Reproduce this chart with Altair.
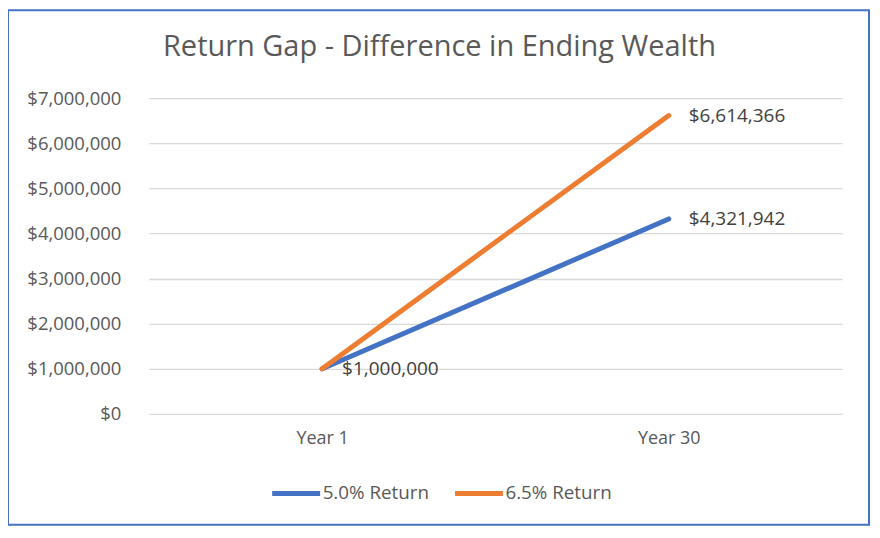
import altair as alt
import pandas as pd

title_text = "Return Gap - Difference in Ending Wealth"
years = ["Year 1", "Year 30"]
series = ["5.0% Return", "6.5% Return"]
r50 = [1000000, 4321942]
r65 = [1000000, 6614366]
colors = ["#4472C4", "#ED7D31"]
y_ticks = [0, 1000000, 2000000, 3000000, 4000000, 5000000, 6000000, 7000000]

rows = []
for i, y in enumerate(years):
    rows.append({"year": y, "series": series[0], "value": r50[i], "show": True})
    rows.append({"year": y, "series": series[1], "value": r65[i], "show": i > 0})
df = pd.DataFrame(rows)

FONT = "Open Sans"

x_enc = alt.X("year:N", sort=years, title=None,
              scale=alt.Scale(type="point", padding=0.5),
              axis=alt.Axis(labelFontSize=18, labelColor="#595959", labelFont=FONT,
                            ticks=False, domain=False, grid=False, labelPadding=16,
                            labelAngle=0))
y_enc = alt.Y("value:Q", title=None,
              scale=alt.Scale(domain=[0, 7000000], nice=False),
              axis=alt.Axis(values=y_ticks, format="$,.0f", labelFontSize=18.5,
                            labelColor="#595959", labelFont=FONT, ticks=False,
                            domain=False, labelPadding=28, gridColor="#D9D9D9",
                            gridWidth=1.3))

lines = alt.Chart(df).mark_line(strokeWidth=5, strokeCap="round", strokeJoin="round").encode(
    x=x_enc, y=y_enc,
    color=alt.Color("series:N", scale=alt.Scale(domain=series, range=colors),
                    legend=alt.Legend(title=None, orient="none", direction="horizontal",
                                      legendX=121, legendY=369, symbolType="stroke",
                                      symbolSize=2304, symbolStrokeWidth=5,
                                      labelFontSize=18.8, labelFont=FONT,
                                      labelColor="#595959", labelOffset=0,
                                      columnPadding=15, padding=0)),
)

labels = alt.Chart(df).transform_filter("datum.show").transform_calculate(
    label="format(datum.value, '$,.0f')"
).mark_text(align="left", baseline="middle", dx=20, fontSize=19, font=FONT,
            color="#404040").encode(
    x=alt.X("year:N", sort=years, scale=alt.Scale(type="point", padding=0.5)),
    y=alt.Y("value:Q"),
    text="label:N",
)

title = alt.Chart(pd.DataFrame({"t": [title_text]})).mark_text(
    align="center", baseline="alphabetic", fontSize=29, font=FONT, color="#595959"
).encode(x=alt.value(291), y=alt.value(-42), text="t:N")

border = alt.Chart(pd.DataFrame({"k": [0]})).mark_rect(
    filled=False, stroke="#4472C4", strokeWidth=2
).encode(x=alt.value(-141), x2=alt.value(721), y=alt.value(-88), y2=alt.value(427))

chart = alt.layer(lines, labels, title, border).properties(
    width=694, height=316,
    background="white",
    autosize=alt.AutoSizeParams(type="none"),
    padding={"left": 141, "top": 90, "right": 30, "bottom": 115},
).configure_view(stroke="transparent", strokeWidth=0)

chart.save("out.html", embed_options={"renderer": "svg", "actions": False})
